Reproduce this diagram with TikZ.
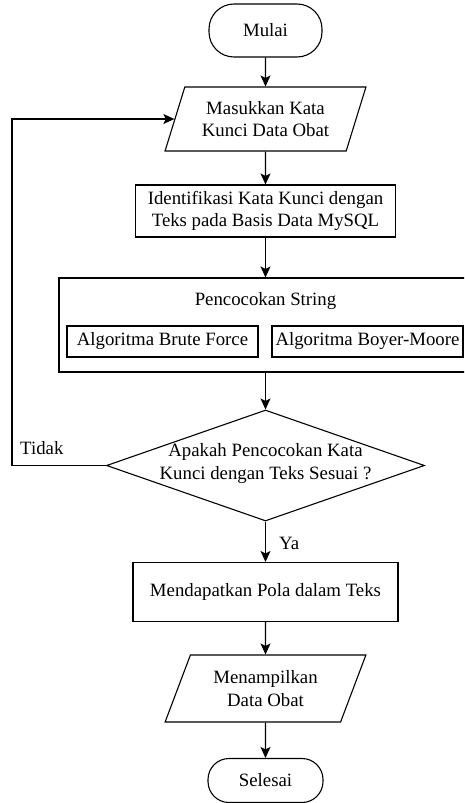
\documentclass[tikz,border=0pt]{standalone}
\usepackage{fontspec}
\setmainfont{Liberation Serif}
\usetikzlibrary{shapes.geometric,arrows.meta}
\begin{document}
\begin{tikzpicture}[x=1pt,y=-1pt,
  txt/.style={font=\fontsize{18.8}{22.5}\selectfont, align=center, inner sep=0pt},
  base/.style={txt, draw, line width=1.1pt},
  term/.style={base, rectangle, rounded corners=21pt},
  io/.style={base, trapezium, trapezium stretches=true},
  proc/.style={base, rectangle},
  arr/.style={line width=1.1pt, -{Stealth[length=11pt,width=10pt,inset=2.5pt]}}]
\useasboundingbox (0,0) rectangle (464,803);
\clip (0,0) rectangle (464,803);
\node[term, minimum width=113pt, minimum height=53pt, rounded corners=25pt] (start) at (265.5,30.5) {Mulai};
\node[io, minimum width=201pt, minimum height=64pt, trapezium left angle=66.4, trapezium right angle=113.6] (inp) at (265.5,119) {Masukkan Kata\\Kunci Data Obat};
\node[proc, minimum width=260pt, minimum height=52pt] (ident) at (265.5,211) {Identifikasi Kata Kunci dengan\\Teks pada Basis Data MySQL};
\node[proc, minimum width=416pt, minimum height=94pt] (match) at (267,325) {};
\node[txt] (pstr) at (265.5,301) {Pencocokan String};
\node[proc, minimum width=191pt, minimum height=31pt] (bf) at (162.5,341.5) {Algoritma Brute Force};
\node[proc, minimum width=191pt, minimum height=31pt] (bm) at (367.5,341.5) {Algoritma Boyer-Moore};
\node[base, diamond, minimum width=318pt, minimum height=111pt] (dec) at (265.5,465.5) {};
\node[txt] (dtext) at (265.5,463.5) {Apakah Pencocokan Kata\\Kunci dengan Teks Sesuai ?};
\node[proc, minimum width=265pt, minimum height=59pt] (get) at (265.5,592) {Mendapatkan Pola dalam Teks};
\node[io, minimum width=201pt, minimum height=67pt, trapezium left angle=63.8, trapezium right angle=116.2] (out) at (265.5,688.5) {Menampilkan\\Data Obat};
\node[term, minimum width=115pt, minimum height=44pt] (stop) at (265.5,780.5) {Selesai};
\node[txt, anchor=west] (tidak) at (20,448) {Tidak};
\node[txt, anchor=west] (ya) at (279,543) {Ya};
\coordinate (lc) at (12,465.5);
\draw[arr] (start) -- (inp);
\draw[arr] (inp) -- (ident);
\draw[arr] (ident.south) -- (ident.south |- match.north);
\draw[arr] (match.south -| dec.north) -- (dec.north);
\draw[arr] (dec.south) -- (get.north);
\draw[arr] (get) -- (out);
\draw[arr] (out) -- (stop);
\draw[arr] (dec.west) -- (lc) |- (inp.west);
\end{tikzpicture}
\end{document}
